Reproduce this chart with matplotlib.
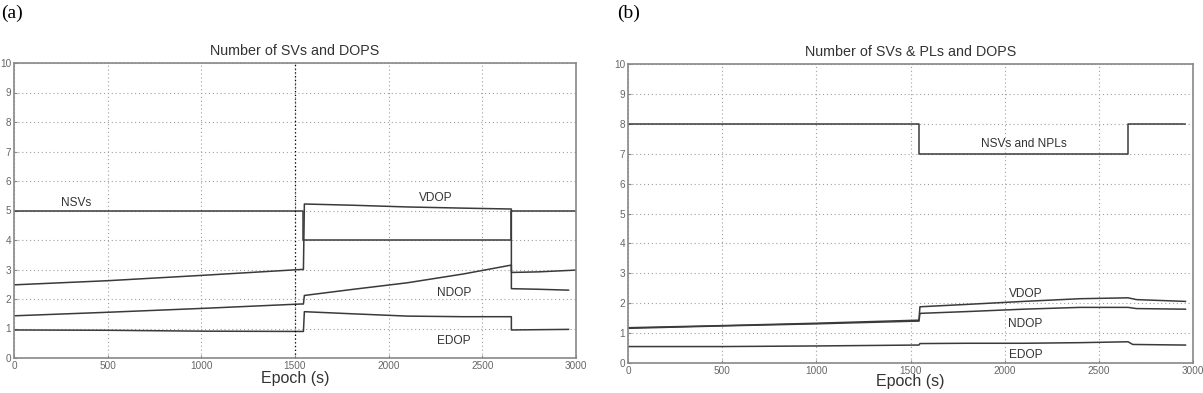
import numpy as np
import matplotlib
matplotlib.use("Agg")
import matplotlib.pyplot as plt

# ---------------- Data (panel a) ----------------
a_nsv_x = [0, 1545, 1545, 2655, 2655, 3000]
a_nsv_y = [5, 5, 4, 4, 5, 5]

a_vdop_x = [0, 500, 1000, 1530, 1545, 1550, 1800, 2100, 2400, 2655, 2655, 2800, 3000]
a_vdop_y = [2.48, 2.62, 2.80, 3.00, 3.00, 5.22, 5.18, 5.12, 5.08, 5.05, 2.90, 2.92, 2.98]

a_ndop_x = [0, 500, 1000, 1530, 1545, 1550, 1800, 2100, 2400, 2655, 2655, 2800, 2960]
a_ndop_y = [1.43, 1.55, 1.68, 1.83, 1.83, 2.12, 2.32, 2.55, 2.85, 3.15, 2.35, 2.33, 2.30]

a_edop_x = [0, 500, 1000, 1530, 1545, 1550, 1800, 2100, 2400, 2655, 2655, 2800, 2960]
a_edop_y = [0.95, 0.94, 0.91, 0.90, 0.90, 1.57, 1.50, 1.42, 1.40, 1.40, 0.95, 0.96, 0.97]

# ---------------- Data (panel b) ----------------
b_nsv_x = [0, 1545, 1545, 2655, 2655, 2960]
b_nsv_y = [8, 8, 7, 7, 8, 8]

b_vdop_x = [0, 500, 1000, 1530, 1545, 1550, 1800, 2100, 2400, 2655, 2700, 2960]
b_vdop_y = [1.18, 1.25, 1.33, 1.43, 1.43, 1.88, 1.96, 2.06, 2.15, 2.18, 2.12, 2.06]

b_ndop_x = [0, 500, 1000, 1530, 1545, 1550, 1800, 2100, 2400, 2655, 2700, 2960]
b_ndop_y = [1.16, 1.24, 1.31, 1.40, 1.40, 1.66, 1.72, 1.80, 1.86, 1.86, 1.82, 1.80]

b_edop_x = [0, 500, 1000, 1530, 1545, 1550, 1800, 2100, 2400, 2655, 2680, 2960]
b_edop_y = [0.55, 0.55, 0.57, 0.60, 0.60, 0.65, 0.66, 0.66, 0.68, 0.71, 0.62, 0.60]

xticks = [0, 500, 1000, 1500, 2000, 2500, 3000]
yticks = list(range(0, 11))

titles = ["Number of SVs and DOPS", "Number of SVs & PLs and DOPS"]
panel_labels = ["(a)", "(b)"]

a_labels = [("NSVs", 330, 5.27), ("VDOP", 2250, 5.42), ("NDOP", 2350, 2.22), ("EDOP", 2350, 0.58)]
b_labels = [("NSVs and NPLs", 2100, 7.33), ("VDOP", 2110, 2.3), ("NDOP", 2110, 1.29), ("EDOP", 2110, 0.28)]

# ---------------- Figure ----------------
plt.rcParams['font.family'] = ['Liberation Sans', 'DejaVu Sans']
fig = plt.figure(figsize=(12.03, 3.93), dpi=100)
ax1 = fig.add_axes([14/1203, 1-358/393, 562/1203, 295/393])
ax2 = fig.add_axes([628/1203, 1-363/393, 565/1203, 299/393])

line_kw = dict(color='#3a3a3a', lw=1.1)
grid_col = '#a0a0a0'

def style(ax, title, xlabel_pad):
    ax.set_xlim(0, 3000)
    ax.set_ylim(0, 10)
    ax.set_xticks(xticks)
    ax.set_yticks(yticks)
    ax.grid(True, linestyle=(0, (1, 2.5)), color=grid_col, lw=0.8)
    for s in ax.spines.values():
        s.set_color('#888888')
        s.set_linewidth(1.2)
    ax.tick_params(axis='both', labelsize=7.2, colors='#888888', labelcolor='#666666',
                   length=2, direction='in', pad=2)
    ax.set_title(title, fontsize=10.3, color='#333333', pad=6)
    ax.set_xlabel("Epoch (s)", fontsize=11.5, color='#333333', labelpad=xlabel_pad)

# Panel a
ax1.plot(a_nsv_x, a_nsv_y, **line_kw)
ax1.plot(a_vdop_x, a_vdop_y, **line_kw)
ax1.plot(a_ndop_x, a_ndop_y, **line_kw)
ax1.plot(a_edop_x, a_edop_y, **line_kw)
ax1.axvline(1500, color='black', lw=0.9, linestyle=(0, (1, 2)))
for t, x, y in a_labels:
    ax1.text(x, y, t, fontsize=8.6, color='#333333', ha='center', va='center')
style(ax1, titles[0], 0)

# Panel b
ax2.plot(b_nsv_x, b_nsv_y, **line_kw)
ax2.plot(b_vdop_x, b_vdop_y, **line_kw)
ax2.plot(b_ndop_x, b_ndop_y, **line_kw)
ax2.plot(b_edop_x, b_edop_y, **line_kw)
for t, x, y in b_labels:
    ax2.text(x, y, t, fontsize=8.6, color='#333333', ha='center', va='center')
style(ax2, titles[1], -1)

fig.text(1/1203, 1-13/393, panel_labels[0], fontsize=14, family='Liberation Serif', va='center', ha='left')
fig.text(617/1203, 1-13/393, panel_labels[1], fontsize=14, family='Liberation Serif', va='center', ha='left')

fig.savefig("out.png", dpi=100, facecolor='white')
